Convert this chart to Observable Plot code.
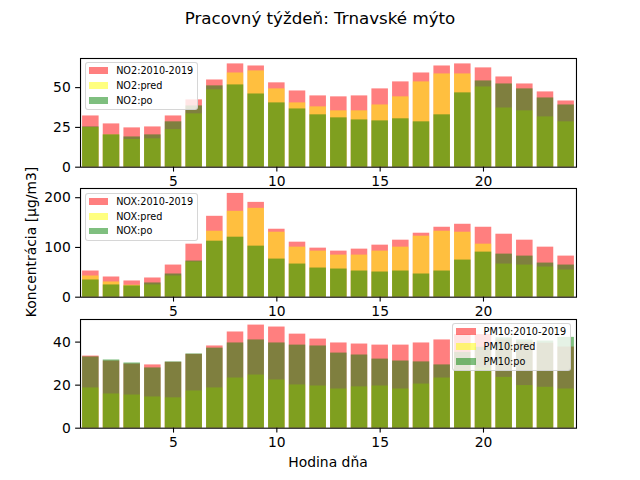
<!DOCTYPE html>
<html>
<head>
<meta charset="utf-8">
<script src="https://cdn.jsdelivr.net/npm/d3@7"></script>
<script src="https://cdn.jsdelivr.net/npm/@observablehq/plot@0.6"></script>
<style>
  body { margin: 0; background: white; }
  #fig { position: relative; width: 640px; height: 480px; background: white; font-family: "DejaVu Sans", sans-serif; color: black; overflow: hidden; }
  .abs { position: absolute; }
  .txt { white-space: nowrap; transform: translate(-50%, -50%); }
  .legend { position: absolute; background: rgba(255,255,255,0.8); border: 1px solid rgba(204,204,204,0.8); border-radius: 3px; padding: 0 4px 1.3px 3.1px; font-size: 9.7px; }
  .legend .row { display: flex; align-items: center; height: 14.8px; white-space: nowrap; }
  .legend .patch { width: 19.4px; height: 6.8px; margin-right: 7.8px; flex: none; }
</style>
</head>
<body>
<div id="fig"></div>
<script>
// ---- data ----
const hours = [1,2,3,4,5,6,7,8,9,10,11,12,13,14,15,16,17,18,19,20,21,22,23,24];
const xTicks = [5, 10, 15, 20];

const no2Ref  = [32.2, 27.2, 24.7, 25.3, 32.2, 42.3, 54.8, 64.9, 63.6, 53.0, 47.9, 44.8, 44.2, 44.8, 49.2, 53.6, 59.2, 63.6, 64.9, 62.4, 56.7, 52.3, 47.3, 41.6];
const no2Pred = [24.9, 20.3, 17.4, 17.8, 23.6, 33.5, 48.6, 59.2, 60.5, 49.2, 40.4, 37.9, 35.4, 35.4, 39.1, 44.2, 53.6, 58.6, 58.6, 50.4, 37.2, 35.4, 31.6, 28.5];
const no2Po   = [25.3, 20.3, 19.0, 20.3, 28.5, 38.5, 51.1, 51.7, 46.0, 40.4, 36.6, 32.9, 31.0, 29.7, 29.1, 30.4, 28.5, 32.9, 46.7, 54.2, 52.3, 49.2, 43.5, 39.1];
const no2Ticks = [0, 25, 50];

const noxRef  = [52.6, 40.6, 32.6, 38.6, 64.6, 106.6, 162.6, 208.6, 190.6, 136.6, 110.6, 98.6, 92.6, 96.6, 104.6, 114.6, 128.6, 140.6, 146.6, 140.6, 126.6, 114.6, 100.6, 82.6];
const noxPred = [42.6, 30.6, 24.0, 24.6, 42.6, 70.6, 132.6, 172.6, 178.6, 130.6, 100.6, 92.6, 84.6, 84.6, 92.6, 100.6, 122.6, 132.6, 130.6, 106.6, 66.6, 64.6, 60.6, 54.6];
const noxPo   = [34.6, 24.6, 22.6, 28.6, 46.6, 72.6, 112.6, 120.6, 102.6, 76.6, 66.6, 58.6, 56.6, 52.6, 50.6, 52.6, 46.6, 52.6, 74.6, 90.6, 86.6, 82.6, 68.6, 64.6];
const noxTicks = [0, 100, 200];

const pmRef  = [33.5, 31.2, 29.8, 29.4, 30.6, 34.3, 38.2, 44.7, 47.9, 47.0, 43.7, 41.4, 39.6, 39.1, 38.6, 38.6, 39.6, 41.0, 43.5, 43.5, 41.0, 40.0, 39.5, 37.7];
const pmPred = [18.7, 15.9, 15.4, 14.5, 14.1, 17.3, 18.7, 23.3, 24.7, 22.4, 20.1, 19.6, 18.2, 19.2, 19.6, 18.2, 20.5, 23.3, 27.0, 28.0, 23.6, 19.8, 19.0, 18.2];
const pmPo   = [33.1, 31.7, 30.3, 28.0, 30.8, 34.5, 37.2, 39.6, 41.0, 39.6, 38.6, 38.2, 34.9, 34.0, 32.1, 31.2, 30.8, 29.4, 35.2, 37.6, 42.0, 41.0, 40.5, 42.2];
const pmTicks = [0, 20, 40];

const seriesColors = ["#ff0000", "#ffff00", "#008000"];
const seriesSuffix = ["2010-2019", "pred", "po"];

const title = "Pracovný týždeň: Trnavské mýto";
const yTitle = "Koncentrácia [µg/m3]";
const xTitle = "Hodina dňa";

// ---- layout ----
const fig = document.getElementById("fig");
const axLeft = 80, axRight = 576, axH = 108.7;
const panelTops = [57.6, 188.1, 318.5];
const mt = 8, mb = 30;

function makePanel(series, yMax, yTicks) {
  const marks = series.map((vals, k) =>
    Plot.barY(hours.map((h, i) => ({h, v: vals[i]})), {x: "h", y: "v", fill: seriesColors[k], fillOpacity: 0.5})
  );
  return Plot.plot({
    width: 640,
    height: axH + mt + mb,
    marginLeft: axLeft,
    marginRight: 640 - axRight,
    marginTop: mt,
    marginBottom: mb,
    style: {fontFamily: "DejaVu Sans", fontSize: "13.9px", background: "transparent", overflow: "visible", color: "black"},
    x: {type: "band", domain: hours, paddingInner: 0.2, paddingOuter: 0.1, round: false},
    y: {domain: [0, yMax]},
    marks: [
      ...marks,
      Plot.frame({stroke: "black", strokeWidth: 1.1}),
      Plot.axisX(xTicks, {tickSize: 4.9, tickPadding: 4.5, label: null, strokeWidth: 1.1}),
      Plot.axisY(yTicks, {tickSize: 4.9, tickPadding: 4.9, label: null, strokeWidth: 1.1})
    ]
  });
}

const panels = [
  {series: [no2Ref, no2Pred, no2Po], yMax: 68.3, ticks: no2Ticks, name: "NO2", legend: "left"},
  {series: [noxRef, noxPred, noxPo], yMax: 218.5, ticks: noxTicks, name: "NOX", legend: "left"},
  {series: [pmRef, pmPred, pmPo], yMax: 50.5, ticks: pmTicks, name: "PM10", legend: "right"}
];

panels.forEach((p, idx) => {
  const svg = makePanel(p.series, p.yMax, p.ticks);
  svg.classList.add("abs");
  svg.style.left = "0px";
  svg.style.top = (panelTops[idx] - mt) + "px";
  fig.appendChild(svg);
});

// legends (drawn above the bars, semi-transparent like matplotlib)
panels.forEach((p, idx) => {
  const lg = document.createElement("div");
  lg.className = "legend";
  lg.style.top = (panelTops[idx] + 4.85) + "px";
  if (p.legend === "left") lg.style.left = (axLeft + 4.85) + "px";
  else lg.style.right = (640 - axRight + 4.85) + "px";
  seriesSuffix.forEach((s, k) => {
    const row = document.createElement("div");
    row.className = "row";
    const patch = document.createElement("div");
    patch.className = "patch";
    patch.style.background = seriesColors[k];
    patch.style.opacity = 0.5;
    const label = document.createElement("span");
    label.textContent = p.name + ":" + s;
    row.appendChild(patch);
    row.appendChild(label);
    lg.appendChild(row);
  });
  fig.appendChild(lg);
});

function addText(str, x, y, size, rotate) {
  const d = document.createElement("div");
  d.className = "abs txt";
  d.textContent = str;
  d.style.left = x + "px";
  d.style.top = y + "px";
  d.style.fontSize = size + "px";
  if (rotate) d.style.transform = "translate(-50%, -50%) rotate(-90deg)";
  fig.appendChild(d);
}
addText(title, 320, 18, 16.7);
addText(xTitle, (axLeft + axRight) / 2, 462, 13.9);
addText(yTitle, 30.5, (panelTops[0] + panelTops[2] + axH) / 2, 13.9, true);
</script>
</body>
</html>
